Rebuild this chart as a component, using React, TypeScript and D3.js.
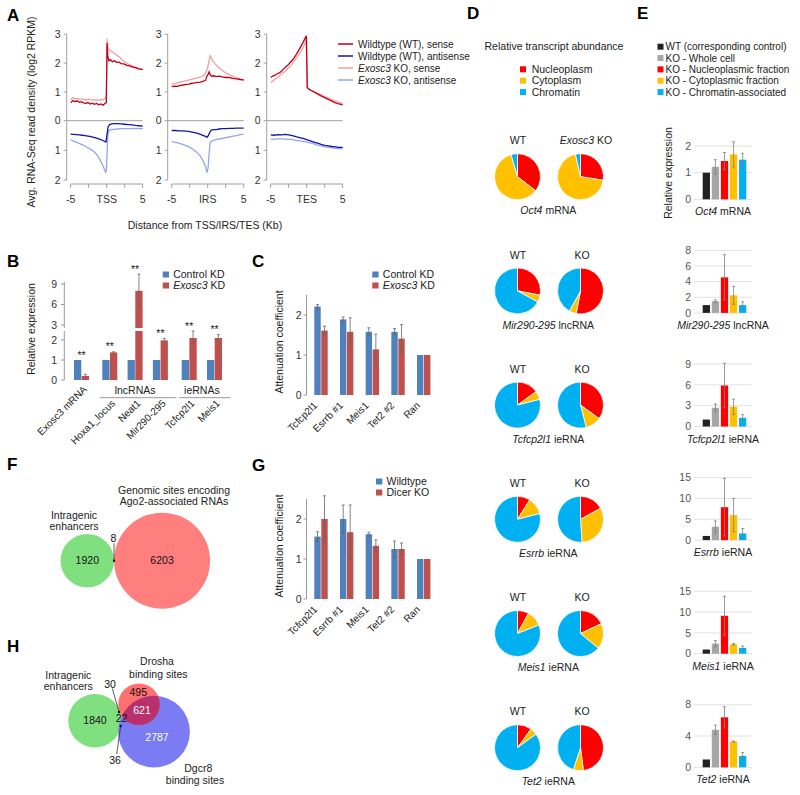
import React from 'react';
import * as d3 from 'd3';

const FONT = "'Liberation Sans', Arial, Helvetica, sans-serif";

// ---------------- Panel A data ----------------
const profileCenters = ['TSS', 'IRS', 'TES'];
const profileXTicks = [-5, -2.5, 0, 2.5, 5];
const senseTicks = [0, 1, 2, 3];
const antisenseTicks = [1, 2];
const aSeriesNames = ['Wildtype (WT), sense', 'Wildtype (WT), antisense', 'Exosc3 KO, sense', 'Exosc3 KO, antisense'];

const tssWtSense = [[-5,0.62],[-4.7,0.7],[-4.4,0.66],[-4.1,0.69],[-3.8,0.64],[-3.5,0.66],[-3.2,0.62],[-2.9,0.6],[-2.6,0.63],[-2.3,0.58],[-2,0.61],[-1.7,0.57],[-1.4,0.6],[-1.1,0.55],[-0.8,0.58],[-0.5,0.54],[-0.25,0.6],[-0.05,0.63],[0.05,2.7],[0.15,2.25],[0.3,2.08],[0.5,2.12],[0.8,2.05],[1.1,2.08],[1.4,2.02],[1.7,2.04],[2,1.98],[2.4,1.97],[2.8,1.92],[3.2,1.9],[3.6,1.86],[4,1.84],[4.4,1.8],[4.7,1.79],[5,1.77]];
const tssKoSense = [[-5,0.72],[-4.7,0.8],[-4.4,0.76],[-4.1,0.78],[-3.7,0.74],[-3.3,0.76],[-2.9,0.72],[-2.5,0.74],[-2.1,0.72],[-1.7,0.73],[-1.3,0.71],[-0.9,0.73],[-0.5,0.72],[-0.2,0.78],[-0.05,0.88],[0.05,2.85],[0.2,2.5],[0.4,2.45],[0.7,2.4],[1,2.35],[1.4,2.28],[1.8,2.2],[2.2,2.1],[2.6,2.03],[3,1.97],[3.4,1.92],[3.8,1.88],[4.2,1.84],[4.6,1.8],[5,1.78]];
const tssWtAnti = [[-5,0.45],[-4.6,0.46],[-4.2,0.47],[-3.8,0.48],[-3.4,0.49],[-3,0.5],[-2.6,0.52],[-2.2,0.54],[-1.8,0.56],[-1.4,0.59],[-1,0.62],[-0.6,0.66],[-0.3,0.7],[-0.1,0.72],[0.05,0.45],[0.2,0.2],[0.4,0.13],[0.7,0.11],[1,0.1],[1.5,0.1],[2,0.11],[2.5,0.12],[3,0.13],[3.5,0.14],[4,0.16],[4.5,0.17],[5,0.18]];
const tssKoAnti = [[-5,0.65],[-4.5,0.7],[-4,0.75],[-3.5,0.8],[-3,0.86],[-2.5,0.93],[-2,1.0],[-1.6,1.08],[-1.2,1.2],[-0.9,1.33],[-0.6,1.48],[-0.35,1.62],[-0.15,1.74],[-0.05,1.7],[0.05,1.1],[0.15,0.5],[0.3,0.33],[0.6,0.3],[1,0.29],[1.5,0.28],[2,0.27],[3,0.27],[4,0.26],[5,0.27]];

const irsWtSense = [[-5,1.18],[-4.6,1.2],[-4.2,1.19],[-3.8,1.23],[-3.4,1.24],[-3,1.26],[-2.6,1.27],[-2.2,1.3],[-1.8,1.31],[-1.4,1.33],[-1,1.34],[-0.6,1.37],[-0.3,1.4],[-0.1,1.55],[0.05,1.6],[0.2,1.7],[0.35,1.6],[0.5,1.55],[0.8,1.56],[1.2,1.53],[1.6,1.55],[2,1.52],[2.5,1.5],[3,1.5],[3.5,1.47],[4,1.45],[4.5,1.43],[5,1.42]];
const irsKoSense = [[-5,1.26],[-4.5,1.3],[-4,1.33],[-3.5,1.36],[-3,1.39],[-2.5,1.42],[-2,1.45],[-1.5,1.48],[-1,1.52],[-0.6,1.56],[-0.3,1.65],[0,1.85],[0.2,2.1],[0.35,2.25],[0.6,2.12],[1,1.98],[1.5,1.85],[2,1.75],[2.5,1.66],[3,1.6],[3.5,1.54],[4,1.5],[4.5,1.45],[5,1.4]];
const irsWtAnti = [[-5,0.33],[-4.5,0.33],[-4,0.34],[-3.5,0.34],[-3,0.35],[-2.5,0.37],[-2,0.39],[-1.5,0.42],[-1,0.46],[-0.6,0.5],[-0.3,0.53],[-0.1,0.56],[0.1,0.5],[0.3,0.38],[0.5,0.32],[0.8,0.3],[1.2,0.3],[1.6,0.28],[2,0.27],[2.5,0.27],[3,0.26],[3.5,0.26],[4,0.25],[4.5,0.25],[5,0.25]];
const irsKoAnti = [[-5,0.7],[-4.5,0.73],[-4,0.76],[-3.5,0.8],[-3,0.84],[-2.5,0.9],[-2,0.97],[-1.5,1.07],[-1,1.2],[-0.6,1.38],[-0.3,1.55],[-0.1,1.75],[0.05,1.6],[0.2,1.1],[0.35,0.72],[0.6,0.68],[1,0.65],[1.5,0.62],[2,0.6],[2.5,0.57],[3,0.55],[3.5,0.52],[4,0.5],[4.5,0.47],[5,0.45]];

const tesWtSense = [[-5,1.5],[-4.7,1.55],[-4.4,1.58],[-4.1,1.63],[-3.8,1.66],[-3.5,1.72],[-3.2,1.8],[-2.9,1.87],[-2.6,1.93],[-2.3,2.02],[-2,2.1],[-1.7,2.2],[-1.4,2.32],[-1.1,2.45],[-0.8,2.58],[-0.5,2.72],[-0.25,2.85],[-0.05,2.95],[0.08,1.15],[0.3,1.1],[0.6,1.05],[1,1.0],[1.5,0.93],[2,0.86],[2.5,0.8],[3,0.74],[3.5,0.68],[4,0.62],[4.5,0.58],[5,0.55]];
const tesKoSense = [[-5,1.33],[-4.6,1.4],[-4.2,1.48],[-3.8,1.56],[-3.4,1.64],[-3,1.72],[-2.6,1.82],[-2.2,1.92],[-1.8,2.04],[-1.4,2.18],[-1,2.33],[-0.6,2.5],[-0.3,2.65],[-0.05,2.8],[0.08,1.12],[0.4,1.08],[0.8,1.03],[1.2,0.98],[1.6,0.94],[2,0.9],[2.5,0.84],[3,0.79],[3.5,0.73],[4,0.68],[4.5,0.63],[5,0.6]];
const tesWtAnti = [[-5,0.48],[-4.5,0.49],[-4,0.47],[-3.5,0.48],[-3,0.46],[-2.5,0.48],[-2,0.5],[-1.5,0.54],[-1,0.57],[-0.5,0.6],[0,0.64],[0.5,0.68],[1,0.72],[1.5,0.76],[2,0.8],[2.5,0.83],[3,0.85],[3.5,0.87],[4,0.88],[4.5,0.9],[5,0.9]];
const tesKoAnti = [[-5,0.63],[-4.5,0.62],[-4,0.61],[-3.5,0.61],[-3,0.62],[-2.5,0.63],[-2,0.64],[-1.5,0.66],[-1,0.68],[-0.5,0.7],[0,0.72],[0.5,0.75],[1,0.78],[1.5,0.82],[2,0.85],[2.5,0.88],[3,0.9],[3.5,0.92],[4,0.93],[4.5,0.94],[5,0.95]];

// ---------------- Panel B data ----------------
const bCategories = ['Exosc3 mRNA', 'Hoxa1_locus', 'Neat1', 'Mir290-295', 'Tcfcp2l1', 'Meis1'];
const bGroups = ['', 'lncRNAs', 'lncRNAs', 'lncRNAs', 'ieRNAs', 'ieRNAs'];
const bControl = [1, 1, 1, 1, 1, 1];
const bKD = [0.2, 1.38, 8.0, 1.98, 2.1, 2.1];
const bKDErr = [0.08, 0.03, 2.45, 0.1, 0.35, 0.17];
const bSig = ['**', '**', '**', '**', '**', '**'];
const bTicks = [0, 1, 2, 3, 6, 9];

// ---------------- Panel C / G data ----------------
const attCategories = ['Tcfcp2l1', 'Esrrb #1', 'Meis1', 'Tet2 #2', 'Ran'];
const attTicks = [0, 1, 2];
const cControl = [2.21, 1.89, 1.58, 1.58, 1.0];
const cControlErr = [0.05, 0.06, 0.1, 0.08, 0];
const cExosc3 = [1.61, 1.58, 1.14, 1.41, 1.0];
const cExosc3Err = [0.11, 0.35, 0.38, 0.35, 0];
const gWildtype = [1.56, 2.0, 1.62, 1.25, 1.0];
const gWildtypeErr = [0.12, 0.35, 0.05, 0.2, 0];
const gDicer = [2.0, 1.67, 1.33, 1.25, 1.0];
const gDicerErr = [0.58, 0.68, 0.15, 0.15, 0];

// ---------------- Panel D / E data ----------------
const transcripts = ['Oct4', 'Mir290-295', 'Tcfcp2l1', 'Esrrb', 'Meis1', 'Tet2'];
const transcriptTypes = ['mRNA', 'lncRNA', 'ieRNA', 'ieRNA', 'ieRNA', 'ieRNA'];
const fractions = ['Nucleoplasm', 'Cytoplasm', 'Chromatin'];
const pieWT = [[35.5, 60, 4.5], [28, 5, 67], [15, 6, 79], [9, 12, 79], [8, 11, 81], [10, 5, 85]];
const pieKO = [[27.5, 69, 3.5], [53, 5, 42], [35, 11, 54], [17, 32, 51], [18, 18, 64], [48, 7, 45]];

const eSeries = ['WT (corresponding control)', 'KO - Whole cell', 'KO - Nucleoplasmic fraction', 'KO - Cytoplasmic fraction', 'KO - Chromatin-associated'];
const eValues = [
  [1, 1.22, 1.44, 1.69, 1.49],
  [1, 1.5, 4.55, 2.25, 1.0],
  [1, 2.7, 5.9, 2.85, 1.25],
  [1, 3.2, 7.9, 6.0, 1.6],
  [1, 2.4, 9.1, 2.25, 1.4],
  [1, 4.8, 6.4, 3.3, 1.45],
];
const eErrors = [
  [0, 0.27, 0.32, 0.47, 0.24],
  [0, 0.17, 2.9, 1.15, 0.42],
  [0, 0.55, 3.2, 1.1, 0.45],
  [0, 1.4, 6.9, 4.0, 1.2],
  [0, 0.75, 4.7, 0.2, 0.45],
  [0, 0.6, 1.35, 0.05, 0.45],
];
const eAxisMax = [2.35, 8, 9, 15, 15, 8];
const eTicks = [[0, 1, 2], [0, 2, 4, 6, 8], [0, 3, 6, 9], [0, 5, 10, 15], [0, 5, 10, 15], [0, 4, 8]];

// ---------------- Panel F / H data ----------------
const fOnly = [1920, 6203];
const fShared = 8;
const hOnly = { enh: 1840, drosha: 495, dgcr8: 2787 };
const hPairs = { enhDrosha: 30, enhDgcr8: 36, droshaDgcr8: 621, all: 22 };

// ---------------- styles ----------------
const C_BLUE = '#4f81bd';
const C_RED = '#c0504d';
const aColors = ['#c00018', '#1414a8', '#f2a0a6', '#93a4f4'];
const fracColors = ['#ff0000', '#ffc000', '#00b0f0'];
const eColors = ['#222222', '#a6a6a6', '#ff0000', '#ffc000', '#00b0f0'];

const Ital = ({ children }: any) => <tspan fontStyle="italic">{children}</tspan>;

function PanelA() {
  const axisXs = [66.7, 167.7, 266.7];
  const sense = d3.scaleLinear().domain([0, 3]).range([120.7, 34.3]);
  const anti = d3.scaleLinear().domain([0, 2]).range([120.7, 180]);
  const profiles = [
    [tssWtSense, tssWtAnti, tssKoSense, tssKoAnti],
    [irsWtSense, irsWtAnti, irsKoSense, irsKoAnti],
    [tesWtSense, tesWtAnti, tesKoSense, tesKoAnti],
  ];
  return (
    <g>
      <text x={7} y={21} fontSize={17} fontWeight="bold">A</text>
      <text transform="translate(35,112) rotate(-90)" textAnchor="middle" fontSize={10.5} fill="#222">Avg. RNA-Seq read density (log2 RPKM)</text>
      {profiles.map((series, i) => {
        const ax = axisXs[i];
        const x = d3.scaleLinear().domain([-5, 5]).range([ax + 4, ax + 76]);
        const ls = d3.line<number[]>().x(d => x(d[0])).y(d => sense(d[1]));
        const la = d3.line<number[]>().x(d => x(d[0])).y(d => anti(d[1]));
        const order = [2, 3, 0, 1];
        return (
          <g key={i}>
            <line x1={ax} x2={ax} y1={sense(3)} y2={anti(2)} stroke="#a0a0a0" />
            {senseTicks.map(t => (
              <g key={'s' + t}>
                <line x1={ax - 3} x2={ax} y1={sense(t)} y2={sense(t)} stroke="#a0a0a0" />
                <text x={ax - 6} y={sense(t)} dy="0.35em" textAnchor="end" fontSize={10.5} fill="#333">{t}</text>
              </g>
            ))}
            {antisenseTicks.map(t => (
              <g key={'a' + t}>
                <line x1={ax - 3} x2={ax} y1={anti(t)} y2={anti(t)} stroke="#a0a0a0" />
                <text x={ax - 6} y={anti(t)} dy="0.35em" textAnchor="end" fontSize={10.5} fill="#333">{t}</text>
              </g>
            ))}
            <line x1={ax} x2={x(5)} y1={sense(0)} y2={sense(0)} stroke="#a0a0a0" />
            <line x1={x(-5)} x2={x(5)} y1={184} y2={184} stroke="#a0a0a0" />
            {profileXTicks.map(t => (
              <line key={t} x1={x(t)} x2={x(t)} y1={184} y2={188} stroke="#a0a0a0" />
            ))}
            <text x={x(-5)} y={199} dy="0.35em" textAnchor="middle" fontSize={10.5} fill="#333">-5</text>
            <text x={x(0)} y={199} dy="0.35em" textAnchor="middle" fontSize={10.5} fill="#333">{profileCenters[i]}</text>
            <text x={x(5)} y={199} dy="0.35em" textAnchor="middle" fontSize={10.5} fill="#333">5</text>
            {order.map(k => (
              <path key={k} d={(k % 2 === 0 ? ls : la)(series[k] as any) || ''} fill="none" stroke={aColors[k]} strokeWidth={1.3} />
            ))}
          </g>
        );
      })}
      <text x={205} y={225} dy="0.35em" textAnchor="middle" fontSize={10.5} fill="#222">Distance from TSS/IRS/TES (Kb)</text>
      {aSeriesNames.map((n, i) => (
        <g key={n}>
          <line x1={338} x2={353} y1={44 + i * 12} y2={44 + i * 12} stroke={aColors[i]} strokeWidth={1.5} />
          <text x={358} y={44 + i * 12} dy="0.35em" fontSize={10} fill="#222">
            {n.startsWith('Exosc3') ? (<><Ital>Exosc3</Ital>{n.slice(6)}</>) : n}
          </text>
        </g>
      ))}
    </g>
  );
}

function Legend2({ x, y, labels }: any) {
  return (
    <g>
      {labels.map((l: any, i: number) => (
        <g key={i}>
          <rect x={x} y={y + i * 11 - 3} width={6.3} height={6} fill={i === 0 ? C_BLUE : C_RED} />
          <text x={x + 10.5} y={y + i * 11} dy="0.35em" fontSize={10.5} fill="#222">{l}</text>
        </g>
      ))}
    </g>
  );
}

function PanelB() {
  const groupOffset: Record<string, number> = { '': 0, lncRNAs: 3, ieRNAs: 6.5 };
  const xp = d3.scalePoint().domain(bCategories).range([81.5, 208]);
  const cx = (i: number) => (xp(bCategories[i]) as number) + groupOffset[bGroups[i]];
  const low = d3.scaleLinear().domain([0, 2]).range([380, 340]);
  const high = d3.scaleLinear().domain([3, 9]).range([325, 284]);
  const yB = (v: number) => (v <= 2.45 ? low(v) : high(v));
  const bw = 7.3;
  const groups = ['lncRNAs', 'ieRNAs'];
  return (
    <g>
      <text x={7} y={267} fontSize={17} fontWeight="bold">B</text>
      <text transform="translate(35,329) rotate(-90)" textAnchor="middle" fontSize={10.5} fill="#222">Relative expression</text>
      <line x1={64.3} x2={64.3} y1={380} y2={331} stroke="#999" />
      <line x1={64.3} x2={64.3} y1={328} y2={282} stroke="#999" />
      {bTicks.map(t => (
        <g key={t}>
          <line x1={61} x2={64.3} y1={yB(t)} y2={yB(t)} stroke="#999" />
          <text x={57} y={yB(t)} dy="0.35em" textAnchor="end" fontSize={10.5} fill="#333">{t}</text>
        </g>
      ))}
      {bCategories.map((c, i) => {
        const x = cx(i);
        const top = yB(bKD[i] + bKDErr[i]);
        const topAll = Math.min(top, yB(bControl[i]));
        const grouped = bGroups[i] !== '';
        return (
          <g key={c}>
            <rect x={x - bw - 0.2} y={yB(bControl[i])} width={bw} height={380 - yB(bControl[i])} fill={C_BLUE} />
            <rect x={x + 0.2} y={yB(bKD[i])} width={bw} height={380 - yB(bKD[i])} fill={C_RED} />
            <line x1={x + 0.2 + bw / 2} x2={x + 0.2 + bw / 2} y1={yB(bKD[i] - bKDErr[i])} y2={top} stroke="#666" strokeWidth={0.8} />
            <line x1={x + bw / 2 - 1.3} x2={x + bw / 2 + 1.7} y1={top} y2={top} stroke="#666" strokeWidth={0.8} />
            <text x={x} y={topAll - 1.5} textAnchor="middle" fontSize={10.5} fill="#222">{bSig[i]}</text>
            <text transform={`translate(${x + 6},${grouped ? 404 : 390}) rotate(-45)`} textAnchor="end" fontSize={10} fill="#222">{c}</text>
          </g>
        );
      })}
      <rect x={60} y={328} width={90} height={3} fill="#fff" />
      {groups.map(g => {
        const idx = bGroups.map((d, i) => (d === g ? i : -1)).filter(i => i >= 0);
        const x0 = cx(idx[0]) - 10;
        const x1 = cx(idx[idx.length - 1]) + 16;
        return (
          <g key={g}>
            <line x1={x0} x2={x1} y1={397.7} y2={397.7} stroke="#999" />
            <text x={(cx(idx[0]) + cx(idx[idx.length - 1])) / 2} y={390.2} dy="0.35em" textAnchor="middle" fontSize={10.5} fill="#222">{g}</text>
          </g>
        );
      })}
      <Legend2 x={162.7} y={274.5} labels={[<>Control KD</>, <><Ital>Exosc3</Ital> KD</>]} />
    </g>
  );
}

function AttPanel({ y0, letter, letterY, blue, blueErr, red, redErr, legendX, legendY, legendLabels }: any) {
  const x = d3.scalePoint().domain(attCategories).range([321, 423.7]);
  const y = d3.scaleLinear().domain([0, 2.5]).range([y0, y0 - 100]);
  const bw = 6.4;
  const err = (cxv: number, v: number, e: number) => e > 0 ? (
    <g>
      <line x1={cxv} x2={cxv} y1={y(v - e)} y2={y(v + e)} stroke="#666" strokeWidth={0.8} />
      <line x1={cxv - 1.5} x2={cxv + 1.5} y1={y(v + e)} y2={y(v + e)} stroke="#666" strokeWidth={0.8} />
      <line x1={cxv - 1.5} x2={cxv + 1.5} y1={y(v - e)} y2={y(v - e)} stroke="#666" strokeWidth={0.8} />
    </g>
  ) : null;
  return (
    <g>
      <text x={252} y={letterY} fontSize={17} fontWeight="bold">{letter}</text>
      <text transform={`translate(283,${y0 - 53}) rotate(-90)`} textAnchor="middle" fontSize={10.5} fill="#222">Attenuation coefficient</text>
      <line x1={306.5} x2={306.5} y1={y(2.5)} y2={y0} stroke="#999" />
      {attTicks.map(t => (
        <g key={t}>
          <line x1={303.5} x2={306.5} y1={y(t)} y2={y(t)} stroke="#999" />
          <text x={301.5} y={y(t)} dy="0.35em" textAnchor="end" fontSize={10.5} fill="#333">{t}</text>
        </g>
      ))}
      {attCategories.map((c, i) => {
        const cx = x(c) as number;
        return (
          <g key={c}>
            <rect x={cx - bw - 0.3} y={y(blue[i])} width={bw} height={y0 - y(blue[i])} fill={C_BLUE} />
            <rect x={cx + 0.3} y={y(red[i])} width={bw} height={y0 - y(red[i])} fill={C_RED} />
            {err(cx - bw / 2 - 0.3, blue[i], blueErr[i])}
            {err(cx + bw / 2 + 0.3, red[i], redErr[i])}
            <text transform={`translate(${cx - 3},${y0 + 11}) rotate(-45)`} textAnchor="end" fontSize={10} fill="#222">{c}</text>
          </g>
        );
      })}
      <Legend2 x={legendX} y={legendY} labels={legendLabels} />
    </g>
  );
}

function PanelD() {
  const pie = d3.pie<number>().sort(null).value(d => d);
  const arc = d3.arc<any>().innerRadius(0).outerRadius(23);
  return (
    <g>
      <text x={467} y={19} fontSize={17} fontWeight="bold">D</text>
      <text x={554} y={46.7} dy="0.35em" textAnchor="middle" fontSize={10.5} fill="#222">Relative transcript abundance</text>
      {fractions.map((f, i) => (
        <g key={f}>
          <rect x={520} y={69.3 + i * 11.4 - 3} width={6} height={6} fill={fracColors[i]} />
          <text x={531.7} y={69.3 + i * 11.4} dy="0.35em" fontSize={10.5} fill="#222">{f}</text>
        </g>
      ))}
      {transcripts.map((t, r) => {
        const labelY = 210.7 + r * 114.2;
        const cy = labelY - 34;
        return (
          <g key={t}>
            {[pieWT[r], pieKO[r]].map((vals, k) => (
              <g key={k} transform={`translate(${k === 0 ? 517.5 : 580.5},${cy})`}>
                {pie(vals).map((a, j) => (
                  <path key={j} d={arc(a) || ''} fill={fracColors[j]} stroke="#fff" strokeWidth={0.8} />
                ))}
              </g>
            ))}
            <text x={518} y={cy - 36} dy="0.35em" textAnchor="middle" fontSize={10.5} fill="#222">WT</text>
            <text x={r === 0 ? 586 : 582} y={cy - 36} dy="0.35em" textAnchor="middle" fontSize={10.5} fill="#222">
              {r === 0 ? (<><Ital>Exosc3</Ital> KO</>) : 'KO'}
            </text>
            <text x={548.3} y={labelY} dy="0.35em" textAnchor="middle" fontSize={10.5} fill="#222"><Ital>{t}</Ital> {transcriptTypes[r]}</text>
          </g>
        );
      })}
    </g>
  );
}

function PanelE() {
  const xb = d3.scaleBand().domain(eSeries).range([702.7, 746.3]).paddingInner(0.2).paddingOuter(0);
  return (
    <g>
      <text x={637} y={19} fontSize={17} fontWeight="bold">E</text>
      {eSeries.map((s, i) => (
        <g key={s}>
          <rect x={657.5} y={46.7 + i * 11.35 - 3} width={6} height={6} fill={eColors[i]} />
          <text x={665.5} y={46.7 + i * 11.35} dy="0.35em" fontSize={10} fill="#222">{s}</text>
        </g>
      ))}
      <text transform="translate(672,173) rotate(-90)" textAnchor="middle" fontSize={10.5} fill="#222">Relative expression</text>
      {transcripts.map((t, r) => {
        const base = 199.3 + r * 113.6;
        const y = d3.scaleLinear().domain([0, eAxisMax[r]]).range([base, base - 62.5]);
        return (
          <g key={t}>
            {eTicks[r].map(tk => (
              <g key={tk}>
                <line x1={694} x2={752} y1={y(tk)} y2={y(tk)} stroke="#d9d9d9" strokeWidth={0.8} />
                <text x={691} y={y(tk)} dy="0.35em" textAnchor="end" fontSize={10.5} fill="#555">{tk}</text>
              </g>
            ))}
            {eSeries.map((s, i) => {
              const bx = xb(s) as number;
              const v = eValues[r][i];
              const e = eErrors[r][i];
              const mx = bx + xb.bandwidth() / 2;
              return (
                <g key={s}>
                  <rect x={bx} y={y(v)} width={xb.bandwidth()} height={base - y(v)} fill={eColors[i]} />
                  {e > 0 && (
                    <g stroke="#7f7f7f" strokeWidth={0.8}>
                      <line x1={mx} x2={mx} y1={y(v - e)} y2={y(v + e)} />
                      <line x1={mx - 1.5} x2={mx + 1.5} y1={y(v + e)} y2={y(v + e)} />
                      <line x1={mx - 1.5} x2={mx + 1.5} y1={y(v - e)} y2={y(v - e)} />
                    </g>
                  )}
                </g>
              );
            })}
            <text x={723} y={base + 12.5} dy="0.35em" textAnchor="middle" fontSize={10.5} fill="#222"><Ital>{t}</Ital> {transcriptTypes[r]}</text>
          </g>
        );
      })}
    </g>
  );
}

function PanelF() {
  const r = d3.scaleSqrt().domain([0, fOnly[1] + fShared]).range([0, 48]);
  const rG = r(fOnly[0] + fShared);
  const rR = r(fOnly[1] + fShared);
  const gx = 87.3, cy = 560.7;
  const rx = gx + rG + rR;
  const tx = gx + rG;
  return (
    <g>
      <text x={7} y={470} fontSize={17} fontWeight="bold">F</text>
      <circle cx={rx} cy={cy} r={rR} fill="#ff7f7f" />
      <circle cx={gx} cy={cy} r={rG} fill="#80e080" />
      <text x={gx} y={cy} dy="0.35em" textAnchor="middle" fontSize={10.5} fill="#111">{fOnly[0]}</text>
      <text x={rx} y={cy} dy="0.35em" textAnchor="middle" fontSize={10.5} fill="#111">{fOnly[1]}</text>
      <line x1={tx} x2={tx} y1={543.3} y2={cy} stroke="#333" strokeWidth={0.8} />
      <circle cx={tx} cy={cy} r={1.2} fill="#111" />
      <text x={tx - 0.5} y={538.3} dy="0.35em" textAnchor="middle" fontSize={10.5} fill="#111">{fShared}</text>
      <text x={74} y={515} dy="0.35em" textAnchor="middle" fontSize={10.5} fill="#222">Intragenic</text>
      <text x={74} y={526.7} dy="0.35em" textAnchor="middle" fontSize={10.5} fill="#222">enhancers</text>
      <text x={174} y={490} dy="0.35em" textAnchor="middle" fontSize={10.5} fill="#222">Genomic sites encoding</text>
      <text x={174} y={501.7} dy="0.35em" textAnchor="middle" fontSize={10.5} fill="#222">Ago2-associated RNAs</text>
    </g>
  );
}

function PanelH() {
  const r = d3.scaleSqrt().domain([0, fOnly[1] + fShared]).range([0, 48]);
  const rE = r(hOnly.enh + hPairs.enhDrosha + hPairs.enhDgcr8 + hPairs.all);
  const rD = r(hOnly.drosha + hPairs.enhDrosha + hPairs.droshaDgcr8 + hPairs.all);
  const rG = r(hOnly.dgcr8 + hPairs.enhDgcr8 + hPairs.droshaDgcr8 + hPairs.all);
  const e = { x: 95, y: 720.7 };
  const d = { x: 139, y: 704.3 };
  const g = { x: 154, y: 731.7 };
  return (
    <g>
      <text x={7} y={652} fontSize={17} fontWeight="bold">H</text>
      <defs>
        <clipPath id="clipDgcr8"><circle cx={g.x} cy={g.y} r={rG} /></clipPath>
      </defs>
      <circle cx={e.x} cy={e.y} r={rE} fill="#80e080" />
      <circle cx={g.x} cy={g.y} r={rG} fill="#7b7bf4" />
      <circle cx={d.x} cy={d.y} r={rD} fill="#ff7070" />
      <circle cx={d.x} cy={d.y} r={rD} fill="#b8306c" clipPath="url(#clipDgcr8)" />
      <text x={e.x} y={e.y} dy="0.35em" textAnchor="middle" fontSize={10.5} fill="#111">{hOnly.enh}</text>
      <text x={138.3} y={692.7} dy="0.35em" textAnchor="middle" fontSize={10.5} fill="#111">{hOnly.drosha}</text>
      <text x={142} y={710.7} dy="0.35em" textAnchor="middle" fontSize={10.5} fill="#fff">{hPairs.droshaDgcr8}</text>
      <text x={157} y={737.3} dy="0.35em" textAnchor="middle" fontSize={10.5} fill="#fff">{hOnly.dgcr8}</text>
      <text x={121.5} y={718.3} dy="0.35em" textAnchor="middle" fontSize={10.5} fill="#111">{hPairs.all}</text>
      <line x1={112.3} y1={688.5} x2={119} y2={711.7} stroke="#333" strokeWidth={0.8} />
      <circle cx={119} cy={712} r={1.2} fill="#111" />
      <text x={110} y={684.3} dy="0.35em" textAnchor="middle" fontSize={10.5} fill="#111">{hPairs.enhDrosha}</text>
      <line x1={116.7} y1={754} x2={120.7} y2={726} stroke="#333" strokeWidth={0.8} />
      <circle cx={120.7} cy={726} r={1.2} fill="#111" />
      <text x={115} y={760} dy="0.35em" textAnchor="middle" fontSize={10.5} fill="#111">{hPairs.enhDgcr8}</text>
      <text x={68.3} y={675} dy="0.35em" textAnchor="middle" fontSize={10.5} fill="#222">Intragenic</text>
      <text x={68.3} y={686.7} dy="0.35em" textAnchor="middle" fontSize={10.5} fill="#222">enhancers</text>
      <text x={157} y={661.7} dy="0.35em" textAnchor="middle" fontSize={10.5} fill="#222">Drosha</text>
      <text x={158.3} y={674} dy="0.35em" textAnchor="middle" fontSize={10.5} fill="#222">binding sites</text>
      <text x={198.3} y={768.3} dy="0.35em" textAnchor="middle" fontSize={10.5} fill="#222">Dgcr8</text>
      <text x={195} y={780.7} dy="0.35em" textAnchor="middle" fontSize={10.5} fill="#222">binding sites</text>
    </g>
  );
}

export default function App() {
  return (
    <svg width={800} height={795} style={{ position: 'absolute', left: 0, top: 0, background: '#fff' }} fontFamily={FONT}>
      <rect width={800} height={795} fill="#fff" />
      <PanelA />
      <PanelB />
      <AttPanel y0={395} letter="C" letterY={267} blue={cControl} blueErr={cControlErr} red={cExosc3} redErr={cExosc3Err}
        legendX={372.3} legendY={274.5} legendLabels={[<>Control KD</>, <><Ital>Exosc3</Ital> KD</>]} />
      <AttPanel y0={599} letter="G" letterY={471} blue={gWildtype} blueErr={gWildtypeErr} red={gDicer} redErr={gDicerErr}
        legendX={376} legendY={481.5} legendLabels={[<>Wildtype</>, <>Dicer KO</>]} />
      <PanelD />
      <PanelE />
      <PanelF />
      <PanelH />
    </svg>
  );
}
